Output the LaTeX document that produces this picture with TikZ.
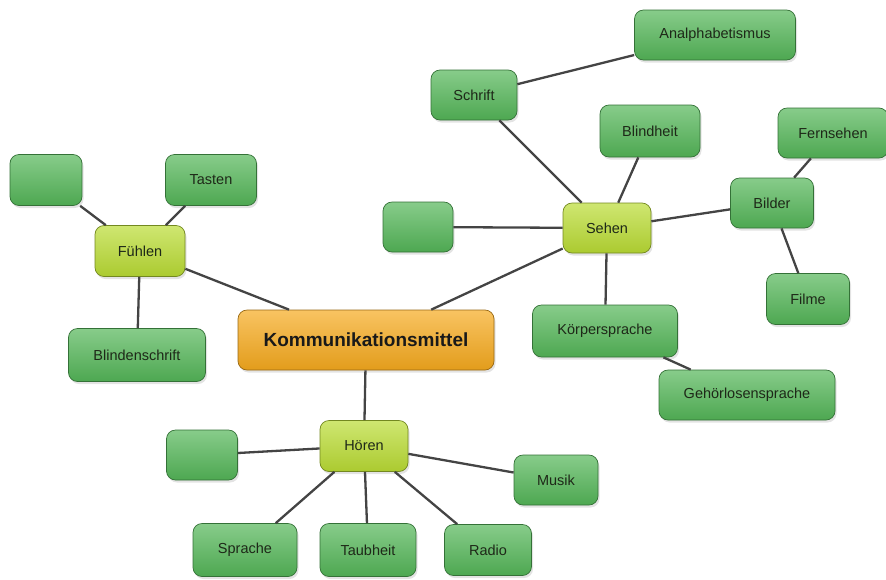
\documentclass[tikz,border=0pt]{standalone}
\usepackage{fontspec}
\setmainfont{Liberation Sans}
\usetikzlibrary{shadows}
\definecolor{LeafGreen}{RGB}{84,182,88}
\definecolor{LimeGreen}{RGB}{186,220,52}
\definecolor{Amber}{RGB}{246,170,30}
\definecolor{LinkGray}{RGB}{68,68,68}
\definecolor{LabelInk}{RGB}{30,40,24}

\begin{document}
\begin{tikzpicture}[
    x=1pt, y=-1pt,
    box/.style={rectangle, rounded corners=9pt, draw=#1!62!black, line width=0.7pt,
                top color=#1!70!white, bottom color=#1!92!black, inner sep=0pt,
                minimum height=51pt, text=LabelInk,
                font=\fontsize{14.5}{16}\selectfont,
                drop shadow={opacity=0.22, shadow xshift=1.5pt, shadow yshift=-2.5pt}},
    box/.default=LeafGreen,
    link/.style={draw=LinkGray, line width=2.3pt},
]
\useasboundingbox (0,0) rectangle (886,579);

% ── Centre ──
\node[box=Amber, minimum width=256pt, minimum height=60pt, text=black!90,
      font=\fontsize{19}{22}\selectfont\bfseries] (kom) at (366,340) {Kommunikationsmittel};

% ── Fühlen branch ──
\node[box=LimeGreen, minimum width=90pt] (fuehlen) at (140,251) {Fühlen};
\node[box, minimum width=72pt] (fleer) at (46,180) {};
\node[box, minimum width=91pt] (tasten) at (211,180) {Tasten};
\node[box, minimum width=137pt, minimum height=53pt] (blindschr) at (137,355) {Blindenschrift};

% ── Sehen branch ──
\node[box=LimeGreen, minimum width=88pt, minimum height=50pt] (sehen) at (607,228) {Sehen};
\node[box, minimum width=86pt, minimum height=50pt] (schrift) at (474,95) {Schrift};
\node[box, minimum width=161pt, minimum height=50pt] (analph) at (715,35) {Analphabetismus};
\node[box, minimum width=100pt, minimum height=52pt] (blindheit) at (650,131) {Blindheit};
\node[box, minimum width=70pt, minimum height=50pt] (sleer) at (418,227) {};
\node[box, minimum width=83pt, minimum height=50pt] (bilder) at (772,203) {Bilder};
\node[box, minimum width=110pt, minimum height=50pt] (fernsehen) at (833,133) {Fernsehen};
\node[box, minimum width=83pt] (filme) at (808,299) {Filme};
\node[box, minimum width=145pt, minimum height=52pt] (koerper) at (605,331) {Körpersprache};
\node[box, minimum width=176pt, minimum height=50pt] (gehoerlos) at (747,395) {Gehörlosensprache};

% ── Hören branch ──
\node[box=LimeGreen, minimum width=88pt] (hoeren) at (364,446) {Hören};
\node[box, minimum width=71pt, minimum height=50pt] (hleer) at (202,455) {};
\node[box, minimum width=84pt, minimum height=50pt] (musik) at (556,480) {Musik};
\node[box, minimum width=104pt, minimum height=53pt] (sprache) at (245,550) {Sprache};
\node[box, minimum width=96pt, minimum height=53pt] (taubheit) at (368,550) {Taubheit};
\node[box, minimum width=87pt] (radio) at (488,550) {Radio};

% ── Links ──
\draw[link] (kom) -- (fuehlen);
\draw[link] (kom) -- (sehen);
\draw[link] (kom) -- (hoeren);

\draw[link] (fuehlen) -- (fleer);
\draw[link] (fuehlen) -- (tasten);
\draw[link] (fuehlen) -- (blindschr);

\draw[link] (sehen) -- (schrift);
\draw[link] (schrift) -- (analph);
\draw[link] (sehen) -- (blindheit);
\draw[link] (sehen) -- (sleer);
\draw[link] (sehen) -- (bilder);
\draw[link] (bilder) -- (fernsehen);
\draw[link] (bilder) -- (filme);
\draw[link] (sehen) -- (koerper);
\draw[link] (koerper) -- (gehoerlos);

\draw[link] (hoeren) -- (hleer);
\draw[link] (hoeren) -- (musik);
\draw[link] (hoeren) -- (sprache);
\draw[link] (hoeren) -- (taubheit);
\draw[link] (hoeren) -- (radio);

\end{tikzpicture}
\end{document}
